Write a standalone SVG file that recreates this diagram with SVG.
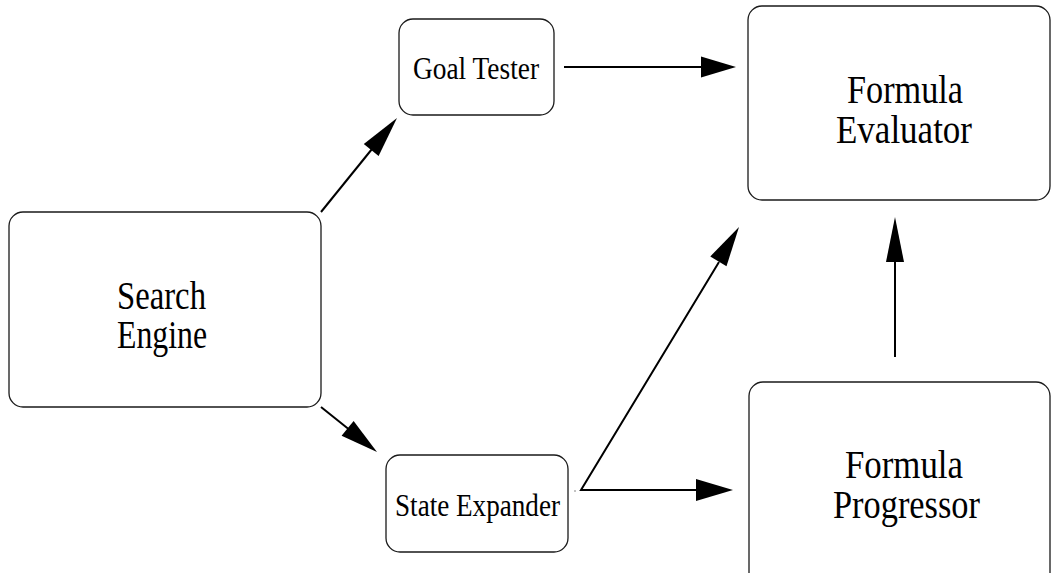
<svg xmlns="http://www.w3.org/2000/svg" width="1052" height="573" viewBox="0 0 1052 573">
  <style>
    .box { fill: #ffffff; stroke: #1a1a1a; stroke-width: 1.3; }
    .lbl { font-family: "Liberation Serif", "Times New Roman", serif; fill: #000000; }
    .big { font-size: 41px; }
    .small { font-size: 32px; }
    .wire { fill: none; stroke: #000000; stroke-width: 2; }
    .head { fill: #000000; stroke: none; }
  </style>
  <rect width="1052" height="573" fill="#ffffff"/>

  <g id="search-engine">
    <rect class="box" x="9" y="212" width="312" height="195" rx="14"/>
    <text class="lbl big" x="117" y="309" textLength="89" lengthAdjust="spacingAndGlyphs">Search</text>
    <text class="lbl big" x="117" y="348" textLength="90" lengthAdjust="spacingAndGlyphs">Engine</text>
  </g>

  <g id="goal-tester">
    <rect class="box" x="399" y="19" width="155" height="96" rx="14"/>
    <text class="lbl small" x="413" y="79" textLength="126" lengthAdjust="spacingAndGlyphs">Goal Tester</text>
  </g>

  <g id="state-expander">
    <rect class="box" x="386" y="455" width="182" height="97" rx="14"/>
    <text class="lbl small" x="395" y="516" textLength="165" lengthAdjust="spacingAndGlyphs">State Expander</text>
  </g>

  <g id="formula-evaluator">
    <rect class="box" x="748" y="6" width="302" height="194" rx="14"/>
    <text class="lbl big" x="847" y="103" textLength="116" lengthAdjust="spacingAndGlyphs">Formula</text>
    <text class="lbl big" x="836" y="143" textLength="136" lengthAdjust="spacingAndGlyphs">Evaluator</text>
  </g>

  <g id="formula-progressor">
    <rect class="box" x="749" y="382" width="301" height="250" rx="14"/>
    <text class="lbl big" x="845" y="478" textLength="118" lengthAdjust="spacingAndGlyphs">Formula</text>
    <text class="lbl big" x="833" y="518" textLength="147" lengthAdjust="spacingAndGlyphs">Progressor</text>
  </g>

  <g id="connectors">
    <!-- Goal Tester -> Formula Evaluator -->
    <line class="wire" x1="564" y1="67" x2="702" y2="67"/>
    <polygon class="head" points="736,67 701,56.5 701,77.5"/>

    <!-- Formula Progressor -> Formula Evaluator -->
    <line class="wire" x1="895" y1="357" x2="895" y2="261"/>
    <polygon class="head" points="895,217 886,262 904,262"/>

    <!-- Search Engine -> Goal Tester -->
    <line class="wire" x1="321" y1="212" x2="372" y2="149"/>
    <polygon class="head" points="397,118 378.6,155.9 363.8,143.9"/>

    <!-- Search Engine -> State Expander -->
    <line class="wire" x1="321" y1="407" x2="348.5" y2="429"/>
    <polygon class="head" points="377,452 341.6,435.8 353.6,421"/>

    <!-- State Expander -> Formula Evaluator, and the branch to Formula Progressor -->
    <polyline class="wire" points="719,262 581,490 697,490"/>
    <polygon class="head" points="739,227 726.5,266.2 710.3,256.4"/>
    <polygon class="head" points="733,490 696,479 696,501"/>

    <circle cx="575" cy="491" r="0.8" fill="#777777"/>
  </g>
</svg>
